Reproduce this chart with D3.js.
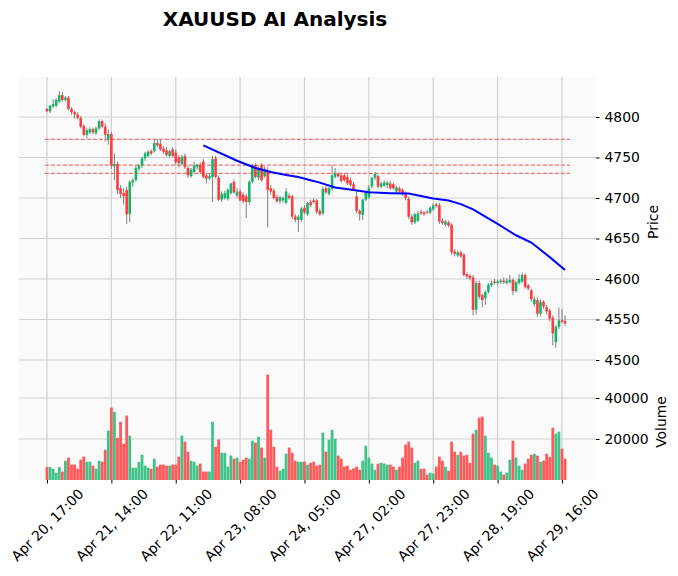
<!DOCTYPE html>
<html><head><meta charset="utf-8">
<script src="https://cdn.jsdelivr.net/npm/d3@7/dist/d3.min.js"></script>
<style>body{margin:0;background:#fff}svg{display:block;font-family:"DejaVu Sans",sans-serif}</style>
</head><body><svg id="c" width="678" height="576"></svg>
<script>
const opens=[4810,4807,4813,4814,4819,4827,4821,4824,4810,4806,4803,4799,4789,4778,4781,4785,4780,4786,4795,4788,
4772,4779,4739,4742,4712,4706,4710,4680,4719,4722,4736,4740,4749,4752,4758,4758,4768,4767,4761,4759,
4752,4760,4756,4750,4742,4752,4737,4727,4732,4738,4741,4745,4728,4724,4726,4749,4725,4698,4700,4699,
4706,4720,4703,4708,4704,4702,4695,4720,4741,4725,4741,4727,4733,4712,4709,4701,4696,4697,4694,4703,
4702,4677,4673,4673,4688,4680,4695,4697,4697,4684,4681,4712,4705,4711,4726,4730,4728,4728,4726,4722,
4717,4702,4684,4679,4698,4701,4714,4725,4727,4714,4715,4716,4718,4717,4708,4712,4710,4706,4699,4677,
4670,4672,4683,4682,4683,4682,4686,4692,4691,4672,4667,4670,4667,4634,4629,4633,4630,4606,4604,4602,
4562,4595,4580,4576,4584,4592,4597,4595,4596,4598,4595,4596,4599,4585,4595,4597,4605,4592,4586,4569,
4574,4557,4572,4565,4561,4552,4522,4541,4549,4548];
const highs=[4811,4815,4822,4823,4832,4831,4826,4826,4812,4808,4806,4801,4791,4786,4787,4787,4788,4797,4797,4792,
4785,4782,4755,4745,4716,4712,4714,4722,4725,4740,4742,4751,4757,4759,4760,4773,4773,4772,4764,4763,
4760,4763,4760,4753,4753,4755,4740,4737,4745,4742,4744,4748,4731,4730,4752,4752,4728,4708,4709,4712,
4719,4723,4712,4711,4707,4705,4722,4742,4743,4739,4743,4739,4738,4716,4712,4704,4703,4702,4712,4706,
4704,4680,4679,4689,4691,4695,4698,4700,4699,4687,4714,4715,4714,4741,4737,4732,4730,4731,4729,4725,
4720,4710,4686,4699,4708,4716,4726,4732,4729,4720,4722,4721,4721,4719,4715,4714,4712,4708,4702,4680,
4682,4684,4686,4684,4685,4690,4693,4694,4694,4675,4673,4672,4669,4637,4635,4635,4632,4608,4606,4605,
4598,4598,4582,4586,4595,4598,4600,4599,4600,4602,4601,4605,4601,4598,4606,4608,4607,4594,4588,4578,
4577,4575,4574,4568,4563,4555,4543,4565,4563,4555];
const lows=[4806,4805,4811,4812,4817,4819,4819,4808,4803,4798,4797,4786,4776,4774,4779,4779,4778,4784,4786,4770,
4766,4736,4722,4705,4700,4692,4668,4670,4714,4720,4733,4737,4746,4750,4753,4756,4763,4758,4754,4751,
4750,4750,4741,4738,4740,4736,4725,4725,4730,4735,4730,4724,4718,4722,4695,4724,4696,4695,4698,4697,
4704,4705,4700,4696,4693,4675,4692,4718,4724,4722,4720,4725,4664,4704,4698,4694,4693,4694,4692,4698,
4674,4670,4658,4671,4680,4678,4689,4693,4680,4678,4679,4705,4703,4709,4724,4725,4719,4720,4716,4714,
4709,4681,4672,4673,4696,4699,4712,4722,4712,4712,4714,4712,4710,4710,4706,4706,4703,4697,4674,4667,
4668,4670,4679,4678,4680,4680,4684,4688,4668,4667,4665,4664,4630,4628,4627,4626,4603,4600,4598,4555,
4556,4575,4565,4568,4582,4590,4593,4593,4594,4594,4593,4594,4580,4583,4593,4595,4588,4586,4572,4566,
4553,4554,4563,4556,4548,4518,4515,4538,4545,4542];
const closes=[4807,4814,4816,4821,4827,4821,4824,4810,4806,4803,4799,4788,4778,4784,4785,4781,4786,4795,4788,4778,
4779,4740,4742,4710,4705,4702,4680,4720,4722,4737,4740,4749,4755,4757,4755,4768,4765,4760,4757,4753,
4758,4752,4744,4743,4751,4738,4728,4735,4740,4741,4732,4726,4724,4727,4748,4726,4698,4705,4706,4710,
4718,4707,4708,4697,4696,4695,4720,4741,4726,4737,4722,4736,4710,4708,4700,4696,4701,4700,4708,4700,
4677,4673,4677,4687,4682,4694,4691,4695,4683,4680,4711,4707,4712,4728,4731,4727,4721,4722,4718,4716,
4711,4684,4680,4698,4707,4712,4725,4730,4714,4718,4719,4719,4712,4712,4713,4708,4705,4700,4677,4670,
4680,4681,4681,4680,4682,4688,4691,4690,4671,4669,4671,4666,4633,4631,4633,4628,4605,4603,4601,4562,
4595,4578,4574,4584,4593,4595,4595,4597,4598,4596,4598,4599,4585,4596,4600,4605,4590,4588,4575,4575,
4557,4572,4566,4560,4551,4533,4541,4549,4547,4545];
const volumes=[6300,6300,5500,3600,6300,4100,9400,10900,7500,7500,5500,9900,11400,8900,8900,7000,5500,9400,8900,14800,
24100,35300,33300,20600,28400,17700,31400,21600,6000,6000,8900,12300,7000,6000,5500,10400,6500,7500,7500,7000,
7000,7500,7500,11400,21600,18700,13800,9400,8900,7000,8000,4100,4100,4100,28400,16200,19700,13300,13300,6500,
11900,10400,10900,8900,9900,10900,10400,19200,18200,21100,15800,10900,51400,24500,16200,6500,4500,5500,12800,15800,
13300,9400,8900,8900,8900,7500,8400,8900,7000,7500,23100,13800,19700,24500,20100,11900,10400,6500,7000,5000,
5700,6500,5000,9400,16700,10900,8000,5000,8000,8400,8000,7500,7500,6500,5000,6500,10900,17200,18700,15800,
8400,9400,5500,5500,2600,3600,3100,6500,11400,9400,6500,4500,18700,13800,12300,13800,11900,12300,8400,22600,
24500,30400,30900,21600,13300,10900,7500,7000,4100,2600,3600,9900,19200,10900,7000,5000,8000,10400,12300,12800,
11900,8900,9400,12800,11200,25500,22600,23600,15300,10400];
const maIdx=[51,62,68,73,78,82,86,89,94,100,105,112,118,122,126,131,135,139,143,147,153,158,164,169];
const maVals=[4765,4746,4737,4732,4728.5,4726,4722,4719,4713,4710,4707,4706,4705.5,4702.5,4699.5,4697,4692.5,4686,4677,4668,4654,4645,4627,4611];
const levels=[4772.5,4740.5,4730.5];
const xTickIdx=[0,21,42,63,84,105,126,147,168];
const xTickLabels=["Apr 20, 17:00","Apr 21, 14:00","Apr 22, 11:00","Apr 23, 08:00","Apr 24, 05:00","Apr 27, 02:00","Apr 27, 23:00","Apr 28, 19:00","Apr 29, 16:00"];
const priceTicks=[4500,4550,4600,4650,4700,4750,4800];
const volTicks=[20000,40000];

const svg=d3.select("#c");
const L=19,R=596,PT=77,PB=362,VT=362,VB=480;
const x=d3.scaleLinear().domain([-9.13,179.1]).range([L,R]);
const yP=d3.scaleLinear().domain([4497.5,4849.4]).range([PB,PT]);
const yV=d3.scaleLinear().domain([0,57560]).range([VB,VT]);
const UP="#17b56c",DN="#fe3c3e",VUP="#40c389",VDN="#fe5a5c";
const data=opens.map((o,i)=>({i,o,h:highs[i],l:lows[i],c:closes[i],v:volumes[i]}));

svg.append("rect").attr("x",L).attr("y",PT).attr("width",R-L).attr("height",PB-PT).attr("fill","#fafafa");
svg.append("rect").attr("x",L).attr("y",VT).attr("width",R-L).attr("height",VB-VT).attr("fill","#fafafa");

const grid=svg.append("g").attr("stroke","#d0d0d0").attr("stroke-width",1.2);
xTickIdx.forEach(t=>{grid.append("line").attr("x1",x(t)).attr("x2",x(t)).attr("y1",PT).attr("y2",VB);});
priceTicks.forEach(t=>{grid.append("line").attr("x1",L).attr("x2",R).attr("y1",yP(t)).attr("y2",yP(t));});
volTicks.forEach(t=>{grid.append("line").attr("x1",L).attr("x2",R).attr("y1",yV(t)).attr("y2",yV(t));});

// dashed levels
svg.append("g").selectAll("line").data(levels).join("line")
 .attr("x1",x(-0.7)).attr("x2",x(170.6)).attr("y1",d=>yP(d)).attr("y2",d=>yP(d))
 .attr("stroke","#f07070").attr("stroke-width",1.2).attr("stroke-dasharray","4,2");

// candles
const cw=2.6;
const cg=svg.append("g");
cg.selectAll("line").data(data).join("line")
 .attr("x1",d=>x(d.i)).attr("x2",d=>x(d.i)).attr("y1",d=>yP(d.h)).attr("y2",d=>yP(d.l))
 .attr("stroke","#808080").attr("stroke-width",1);
cg.selectAll("rect").data(data).join("rect")
 .attr("x",d=>x(d.i)-cw/2).attr("width",cw)
 .attr("y",d=>yP(Math.max(d.o,d.c)))
 .attr("height",d=>Math.max(1,Math.abs(yP(d.o)-yP(d.c))))
 .attr("fill",d=>d.c>=d.o?UP:DN);

// MA line
const ma=maIdx.map((k,j)=>[k,maVals[j]]);
svg.append("path").attr("d",d3.line().x(d=>x(d[0])).y(d=>yP(d[1]))(ma))
 .attr("fill","none").attr("stroke","#0000ff").attr("stroke-width",2);

// volume
const vw=2.8;
svg.append("g").selectAll("rect").data(data).join("rect")
 .attr("x",d=>x(d.i)-vw/2).attr("width",vw)
 .attr("y",d=>yV(d.v)).attr("height",d=>VB-yV(d.v))
 .attr("fill",d=>d.c>=d.o?VUP:VDN);

// axes
const fs="13.9px";
const ay=svg.append("g").attr("transform",`translate(${R},0)`)
 .call(d3.axisRight(yP).tickValues(priceTicks).tickSize(3.5).tickPadding(5).tickFormat(d3.format("d")));
const av=svg.append("g").attr("transform",`translate(${R},0)`)
 .call(d3.axisRight(yV).tickValues(volTicks).tickSize(3.5).tickPadding(5).tickFormat(d3.format("d")));
const ax=svg.append("g").attr("transform",`translate(0,${VB})`)
 .call(d3.axisBottom(x).tickValues(xTickIdx).tickSize(3.5).tickFormat((d,k)=>xTickLabels[k]));
[ay,av,ax].forEach(a=>{a.select(".domain").remove();a.selectAll("text").attr("font-size",fs).attr("font-family","DejaVu Sans").attr("fill","#000");a.selectAll("line").attr("stroke","#000");});
ax.selectAll("text").attr("text-anchor","middle").attr("y",0).attr("dy","0.35em")
 .attr("transform","translate(0,45) rotate(-45)");

svg.append("text").attr("x",275).attr("y",26).attr("text-anchor","middle")
 .attr("font-size","20px").attr("font-weight","bold").text("XAUUSD AI Analysis");
svg.append("text").attr("transform","translate(658,222) rotate(-90)").attr("text-anchor","middle")
 .attr("font-size",fs).text("Price");
svg.append("text").attr("transform","translate(666,422) rotate(-90)").attr("text-anchor","middle")
 .attr("font-size",fs).text("Volume");
</script></body></html>
